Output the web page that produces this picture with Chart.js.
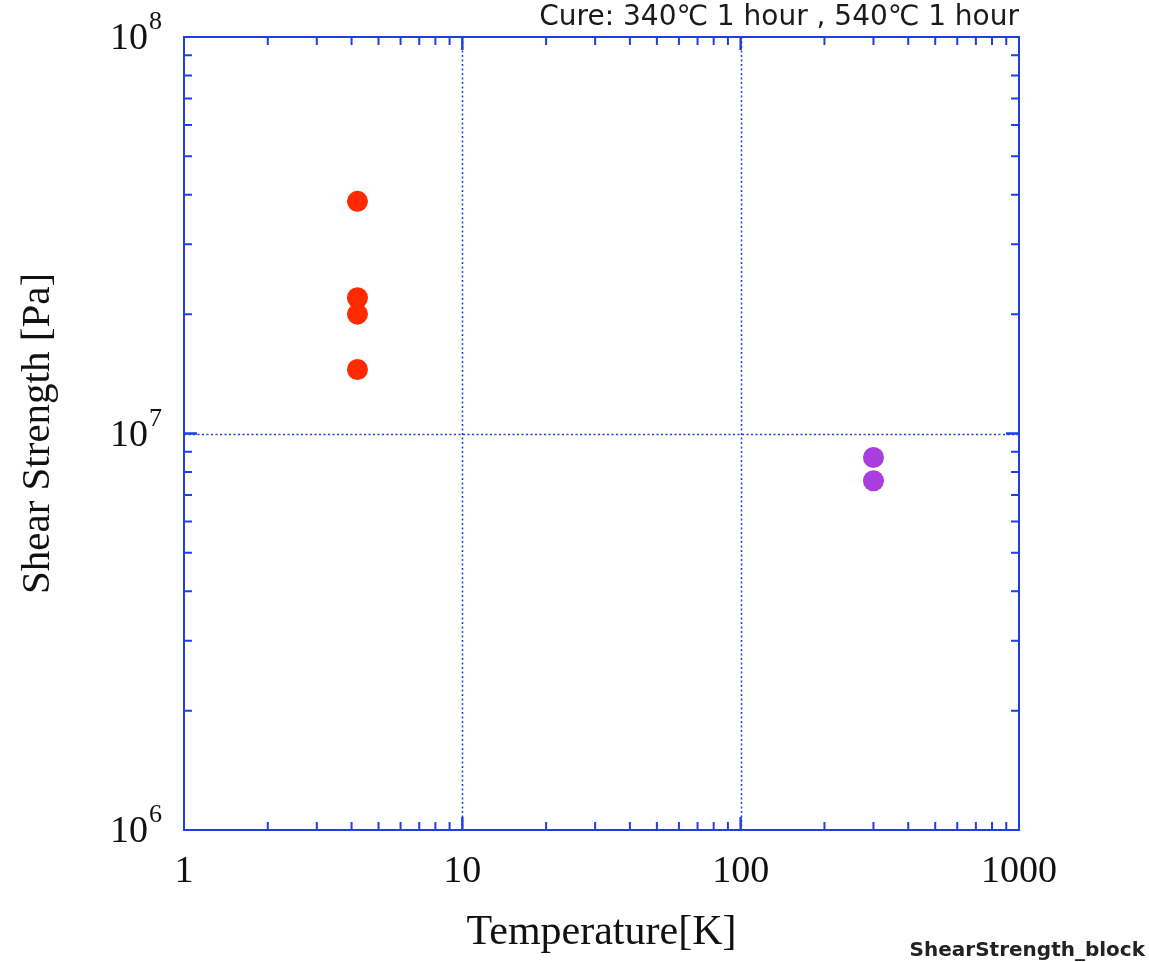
<!DOCTYPE html>
<html>
<head>
<meta charset="utf-8">
<script src="https://cdn.jsdelivr.net/npm/chart.js@4"></script>
<style>
  html, body { margin: 0; padding: 0; background: #fff; }
  #wrap { width: 1149px; height: 962px; }
</style>
</head>
<body>
<div id="wrap"><canvas id="chart" width="1149" height="962"></canvas></div>
<script>
// data
const temp42K = [4.2, 4.2, 4.2, 4.2];
const strength42K = [3.85e7, 2.2e7, 2.0e7, 1.45e7];
const temp300K = [300, 300];
const strength300K = [8.7e6, 7.6e6];

const xTicks = [1, 10, 100, 1000];
const yTicks = [1e6, 1e7, 1e8];
const yExponents = ["6", "7", "8"];

const cureNote = "Cure: 340\u2103 1 hour , 540\u2103 1 hour";
const fileTag = "ShearStrength_block";

const axisBlue = "#1f3fe6";
const serif = "'Liberation Serif', 'DejaVu Serif', serif";
const sans = "'DejaVu Sans', 'Noto Sans CJK JP', sans-serif";

// frame, inward ticks, dotted decade grid
const framePlugin = {
  id: "frame",
  beforeDatasetsDraw(chart) {
    const { ctx, chartArea: a, scales: { x, y } } = chart;
    ctx.save();
    ctx.strokeStyle = axisBlue;

    // dotted grid at inner decades
    ctx.lineWidth = 1.5;
    ctx.setLineDash([2, 2.5]);
    [10, 100].forEach((v) => {
      const px = Math.round(x.getPixelForValue(v)) + 0.5;
      ctx.beginPath(); ctx.moveTo(px, a.top); ctx.lineTo(px, a.bottom); ctx.stroke();
    });
    [1e7].forEach((v) => {
      const py = Math.round(y.getPixelForValue(v)) + 0.5;
      ctx.beginPath(); ctx.moveTo(a.left, py); ctx.lineTo(a.right, py); ctx.stroke();
    });
    ctx.setLineDash([]);

    // ticks
    ctx.lineWidth = 2;
    for (let d = 0; d < 3; d++) {
      for (let k = 1; k <= 10; k++) {
        const v = k * Math.pow(10, d);
        if (v > 1000) continue;
        const px = x.getPixelForValue(v);
        const len = k === 1 || k === 10 ? 13 : 8;
        ctx.beginPath();
        ctx.moveTo(px, a.bottom); ctx.lineTo(px, a.bottom - len);
        ctx.moveTo(px, a.top); ctx.lineTo(px, a.top + len);
        ctx.stroke();
      }
    }
    for (let d = 6; d < 8; d++) {
      for (let k = 1; k <= 10; k++) {
        const v = k * Math.pow(10, d);
        const py = y.getPixelForValue(v);
        const len = k === 1 || k === 10 ? 13 : 8;
        ctx.beginPath();
        ctx.moveTo(a.left, py); ctx.lineTo(a.left + len, py);
        ctx.moveTo(a.right, py); ctx.lineTo(a.right - len, py);
        ctx.stroke();
      }
    }

    // frame
    ctx.lineWidth = 2;
    ctx.strokeRect(a.left, a.top, a.right - a.left, a.bottom - a.top);
    ctx.restore();
  },
  afterDraw(chart) {
    const { ctx, chartArea: a, scales: { y } } = chart;
    ctx.save();
    ctx.fillStyle = "#111";
    // y tick labels with superscript exponents
    yTicks.forEach((v, i) => {
      const py = y.getPixelForValue(v);
      ctx.font = "38px " + serif;
      ctx.textAlign = "right";
      ctx.textBaseline = "alphabetic";
      ctx.fillText("10", 148, py + 12);
      ctx.font = "26px " + serif;
      ctx.textAlign = "left";
      ctx.fillText(yExponents[i], 149, py - 8);
    });
    // cure note, top right
    ctx.font = "28px " + sans;
    ctx.textAlign = "right";
    ctx.fillStyle = "#1a1a1a";
    ctx.fillText(cureNote, a.right, 25);
    // file tag, bottom right
    ctx.font = "bold 20px " + sans;
    ctx.fillStyle = "#222";
    ctx.fillText(fileTag, 1145, 956);
    ctx.restore();
  },
};

function showChart() {
  new Chart(document.getElementById("chart"), {
    type: "scatter",
    data: {
      datasets: [
        {
          label: "4.2 K",
          data: temp42K.map((t, i) => ({ x: t, y: strength42K[i] })),
          backgroundColor: "#ff2a00",
          borderWidth: 0,
          pointRadius: 10.5,
          pointHoverRadius: 10.5,
        },
        {
          label: "300 K",
          data: temp300K.map((t, i) => ({ x: t, y: strength300K[i] })),
          backgroundColor: "#a93ddd",
          borderWidth: 0,
          pointRadius: 10.5,
          pointHoverRadius: 10.5,
        },
      ],
    },
    options: {
      responsive: false,
      animation: false,
      layout: { padding: { top: 37, right: 130, left: 0, bottom: 0 } },
      plugins: { legend: { display: false }, tooltip: { enabled: false } },
      scales: {
        x: {
          type: "logarithmic",
          min: 1,
          max: 1000,
          grid: { display: false, drawTicks: false },
          border: { display: false },
          afterBuildTicks: (s) => { s.ticks = xTicks.map((v) => ({ value: v })); },
          afterFit: (s) => { s.height = 132; },
          ticks: {
            color: "#111",
            font: { family: serif, size: 38 },
            padding: 19,
            maxRotation: 0,
            callback: (v) => String(v),
          },
          title: {
            display: true,
            text: "Temperature[K]",
            color: "#111",
            font: { family: serif, size: 42 },
            padding: { top: 0, bottom: 4 },
          },
        },
        y: {
          type: "logarithmic",
          min: 1e6,
          max: 1e8,
          grid: { display: false, drawTicks: false },
          border: { display: false },
          afterBuildTicks: (s) => { s.ticks = yTicks.map((v) => ({ value: v })); },
          afterFit: (s) => { s.width = 184; },
          ticks: { display: false },
          title: {
            display: true,
            text: "Shear Strength [Pa]",
            color: "#111",
            font: { family: serif, size: 41 },
            padding: { top: 14, bottom: 0 },
          },
        },
      },
    },
    plugins: [framePlugin],
  });
}

showChart();
</script>
</body>
</html>
